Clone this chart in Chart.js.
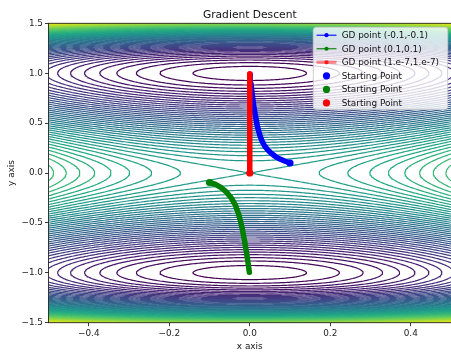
<!DOCTYPE html>
<html>
<head>
<meta charset="utf-8">
<script src="https://cdn.jsdelivr.net/npm/chart.js@4.4.1/dist/chart.umd.min.js"></script>
<style>
  html, body { margin: 0; padding: 0; background: #fff; }
</style>
</head>
<body>
<canvas id="chart" width="451" height="353"></canvas>
<script>
const canvas = document.getElementById("chart");

const xTicks = [-0.4, -0.2, 0.0, 0.2, 0.4];
const yTicks = [-1.5, -1.0, -0.5, 0.0, 0.5, 1.0, 1.5];

// descent tracks
const blueX = [0.100, 0.088, 0.075, 0.064, 0.054, 0.045, 0.037, 0.031, 0.026, 0.020, 0.015, 0.010, 0.006, 0.003, 0.001];
const blueY = [0.100, 0.118, 0.140, 0.165, 0.195, 0.230, 0.270, 0.315, 0.365, 0.450, 0.550, 0.670, 0.790, 0.900, 0.990];
const greenX = [-0.100, -0.085, -0.070, -0.057, -0.046, -0.036, -0.027, -0.019, -0.012, -0.006, -0.001];
const greenY = [-0.095, -0.115, -0.150, -0.195, -0.250, -0.320, -0.420, -0.550, -0.700, -0.850, -0.995];
const redX = [1e-7, 1e-7, 1e-7, 1e-7, 1e-7];
const redY = [1e-7, 0.25, 0.50, 0.75, 0.995];

const legendLabels = [
  "GD point (-0.1,-0.1)",
  "GD point (0.1,0.1)",
  "GD point (1.e-7,1.e-7)",
  "Starting Point",
  "Starting Point",
  "Starting Point"
];

// surface: minima at (0, +-1), saddle at the origin
function surface(x, y) {
  const q = y * y - 1;
  return x * x + q * q;
}

// evenly spaced levels, one of them through the saddle
const levelStep = 0.0297;
const contourLevels = [];
for (let n = -33; n <= 27; n++) contourLevels.push(1 + n * levelStep);

const viridis = ["#440154", "#482475", "#414487", "#355f8d", "#2a788e", "#21918c",
                 "#22a884", "#44bf70", "#7ad151", "#bddf26", "#fde725"];

function hexRgb(h) {
  return [parseInt(h.substr(1, 2), 16), parseInt(h.substr(3, 2), 16), parseInt(h.substr(5, 2), 16)];
}

function viridisAt(t) {
  t = Math.max(0, Math.min(1, t)) * (viridis.length - 1);
  const i = Math.min(Math.floor(t), viridis.length - 2);
  const f = t - i;
  const a = hexRgb(viridis[i]), b = hexRgb(viridis[i + 1]);
  const c = a.map((v, k) => Math.round(v + (b[k] - v) * f));
  return "rgb(" + c.join(",") + ")";
}

// sample grid
const NX = 240, NY = 360;
const gx = [], gy = [];
for (let i = 0; i < NX; i++) gx.push(-0.5 + i / (NX - 1));
for (let j = 0; j < NY; j++) gy.push(-1.5 + 3 * j / (NY - 1));
const Z = gy.map(y => gx.map(x => surface(x, y)));

// marching squares, edges: 0 bottom, 1 right, 2 top, 3 left
const CASES = [
  [], [[3, 0]], [[0, 1]], [[3, 1]], [[1, 2]], null, [[0, 2]], [[3, 2]],
  [[2, 3]], [[0, 2]], null, [[1, 2]], [[1, 3]], [[0, 1]], [[3, 0]], []
];

function traceLevel(L) {
  const nbr = new Map();
  const pos = new Map();

  function edgeKey(i, j, e) {
    if (e === 0) return 2 * (j * NX + i);
    if (e === 2) return 2 * ((j + 1) * NX + i);
    if (e === 3) return 2 * (j * NX + i) + 1;
    return 2 * (j * NX + i + 1) + 1;
  }

  function edgePos(i, j, e) {
    let ax, ay, bx, by;
    if (e === 0) { ax = i; ay = j; bx = i + 1; by = j; }
    else if (e === 1) { ax = i + 1; ay = j; bx = i + 1; by = j + 1; }
    else if (e === 2) { ax = i; ay = j + 1; bx = i + 1; by = j + 1; }
    else { ax = i; ay = j; bx = i; by = j + 1; }
    const va = Z[ay][ax], vb = Z[by][bx];
    const t = (L - va) / (vb - va);
    return { x: gx[ax] + t * (gx[bx] - gx[ax]), y: gy[ay] + t * (gy[by] - gy[ay]) };
  }

  function link(i, j, e1, e2) {
    const k1 = edgeKey(i, j, e1), k2 = edgeKey(i, j, e2);
    if (!pos.has(k1)) { pos.set(k1, edgePos(i, j, e1)); nbr.set(k1, []); }
    if (!pos.has(k2)) { pos.set(k2, edgePos(i, j, e2)); nbr.set(k2, []); }
    nbr.get(k1).push(k2);
    nbr.get(k2).push(k1);
  }

  for (let j = 0; j < NY - 1; j++) {
    for (let i = 0; i < NX - 1; i++) {
      const v0 = Z[j][i], v1 = Z[j][i + 1], v2 = Z[j + 1][i + 1], v3 = Z[j + 1][i];
      const c = (v0 > L ? 1 : 0) | (v1 > L ? 2 : 0) | (v2 > L ? 4 : 0) | (v3 > L ? 8 : 0);
      if (c === 0 || c === 15) continue;
      let segs = CASES[c];
      if (c === 5 || c === 10) {
        const centre = (v0 + v1 + v2 + v3) / 4 > L;
        if (c === 5) segs = centre ? [[0, 1], [2, 3]] : [[3, 0], [1, 2]];
        else segs = centre ? [[3, 0], [1, 2]] : [[0, 1], [2, 3]];
      }
      for (const s of segs) link(i, j, s[0], s[1]);
    }
  }

  // join the cell segments into polylines
  const used = new Set();
  const lines = [];
  function walk(start) {
    const line = [pos.get(start)];
    used.add(start);
    let cur = start;
    for (;;) {
      const next = nbr.get(cur).find(k => !used.has(k));
      if (next === undefined) break;
      used.add(next);
      line.push(pos.get(next));
      cur = next;
    }
    if (line.length > 2 && nbr.get(cur).includes(start)) line.push(pos.get(start));
    return line;
  }
  for (const [k, ns] of nbr) if (ns.length === 1 && !used.has(k)) lines.push(walk(k));
  for (const k of nbr.keys()) if (!used.has(k)) lines.push(walk(k));
  return lines;
}

const lo = contourLevels[0], hi = contourLevels[contourLevels.length - 1];
const contourSets = contourLevels.map(L => {
  const data = [];
  traceLevel(L).forEach(line => {
    line.forEach(p => data.push(p));
    data.push({ x: NaN, y: NaN });
  });
  return {
    data: data,
    showLine: true,
    borderColor: viridisAt((L - lo) / (hi - lo)),
    borderWidth: 1.2,
    pointRadius: 0,
    spanGaps: false,
    clip: 0,
    order: 5
  };
});

function track(xs, ys) {
  return xs.map((x, i) => ({ x: x, y: ys[i] }));
}

function pathSet(xs, ys, color, order) {
  return {
    data: track(xs, ys),
    showLine: true,
    borderColor: color,
    borderWidth: 5.5,
    borderCapStyle: "round",
    borderJoinStyle: "round",
    pointRadius: 0,
    order: order
  };
}

function startSet(xs, ys, color) {
  return {
    data: [{ x: xs[0], y: ys[0] }],
    showLine: false,
    backgroundColor: color,
    borderColor: color,
    borderWidth: 0,
    pointRadius: 3.6,
    order: 0
  };
}

const datasets = [
  startSet(blueX, blueY, "#0000ff"),
  startSet(greenX, greenY, "#008000"),
  startSet(redX, redY, "#ff0000"),
  pathSet(redX, redY, "#ff0000", 1),
  pathSet(greenX, greenY, "#008000", 2),
  pathSet(blueX, blueY, "#0000ff", 3)
].concat(contourSets);

function tickText(v) {
  return v.toFixed(1).replace("-", "\u2212");
}

const FONT = "DejaVu Sans";

// frame, title, axis names and legend
const decorations = {
  id: "decorations",
  afterDraw(chart) {
    const ctx = chart.ctx;
    const a = chart.chartArea;
    ctx.save();

    ctx.strokeStyle = "#222";
    ctx.lineWidth = 0.9;
    ctx.strokeRect(a.left, a.top, a.right - a.left + 2, a.bottom - a.top);

    ctx.fillStyle = "#111";
    ctx.textAlign = "center";
    ctx.textBaseline = "alphabetic";
    ctx.font = "10.7px '" + FONT + "'";
    ctx.fillText("Gradient Descent", (a.left + a.right) / 2, 17.5);

    ctx.font = "8.9px '" + FONT + "'";
    ctx.fillText("x axis", (a.left + a.right) / 2, 349);
    ctx.save();
    ctx.translate(13.5, (a.top + a.bottom) / 2);
    ctx.rotate(-Math.PI / 2);
    ctx.fillText("y axis", 0, 0);
    ctx.restore();

    // legend box
    const bx = 313.3, by = 27.3, bw = 134.4, bh = 82, r = 3;
    ctx.beginPath();
    ctx.moveTo(bx + r, by);
    ctx.arcTo(bx + bw, by, bx + bw, by + bh, r);
    ctx.arcTo(bx + bw, by + bh, bx, by + bh, r);
    ctx.arcTo(bx, by + bh, bx, by, r);
    ctx.arcTo(bx, by, bx + bw, by, r);
    ctx.closePath();
    ctx.fillStyle = "rgba(255,255,255,0.8)";
    ctx.fill();
    ctx.strokeStyle = "#cccccc";
    ctx.lineWidth = 1;
    ctx.stroke();

    const colors = ["#0000ff", "#008000", "#ff0000", "#0000ff", "#008000", "#ff0000"];
    const hx0 = 316.5, hx1 = 336.5, hc = 326.5;
    ctx.textAlign = "left";
    ctx.textBaseline = "middle";
    legendLabels.forEach((label, i) => {
      const y = 35.2 + i * 13.55;
      const c = colors[i];
      if (i < 3) {
        ctx.beginPath();
        ctx.moveTo(hx0, y);
        ctx.lineTo(hx1, y);
        if (i === 2) {
          ctx.strokeStyle = "rgba(255,0,0,0.45)";
          ctx.lineWidth = 3;
        } else {
          ctx.strokeStyle = c;
          ctx.lineWidth = 1.1;
        }
        ctx.stroke();
        ctx.beginPath();
        ctx.arc(hc, y, 2.1, 0, Math.PI * 2);
        ctx.fillStyle = i === 2 ? "rgba(255,0,0,0.8)" : c;
        ctx.fill();
      } else {
        ctx.beginPath();
        ctx.arc(hc, y, 3.6, 0, Math.PI * 2);
        ctx.fillStyle = c;
        ctx.fill();
      }
      ctx.fillStyle = "#111";
      ctx.fillText(label, 341.7, y + 0.5);
    });

    ctx.restore();
  }
};

new Chart(canvas, {
  type: "scatter",
  data: { datasets: datasets },
  options: {
    responsive: false,
    animation: false,
    devicePixelRatio: 1,
    events: [],
    layout: { autoPadding: false, padding: { top: 23.3, left: 0, right: 0, bottom: 0 } },
    plugins: {
      legend: { display: false },
      tooltip: { enabled: false },
      title: { display: false }
    },
    scales: {
      x: {
        type: "linear",
        min: -0.5,
        max: 0.5,
        afterBuildTicks: s => { s.ticks = xTicks.map(v => ({ value: v })); },
        afterFit: s => { s.height = 30.3; s.paddingLeft = 0; s.paddingRight = 0; },
        ticks: {
          callback: v => tickText(v),
          font: { family: FONT, size: 8.9 },
          color: "#222",
          padding: 2,
          maxRotation: 0,
          autoSkip: false
        },
        grid: { display: true, drawOnChartArea: false, drawTicks: true, tickLength: 3.5, tickColor: "#222", tickWidth: 0.9 },
        border: { display: false }
      },
      y: {
        type: "linear",
        min: -1.5,
        max: 1.5,
        afterBuildTicks: s => { s.ticks = yTicks.map(v => ({ value: v })); },
        afterFit: s => { s.width = 48.5; s.paddingTop = 0; s.paddingBottom = 0; },
        ticks: {
          callback: v => tickText(v),
          font: { family: FONT, size: 8.9 },
          color: "#222",
          padding: 2,
          autoSkip: false
        },
        grid: { display: true, drawOnChartArea: false, drawTicks: true, tickLength: 3.5, tickColor: "#222", tickWidth: 0.9 },
        border: { display: false }
      }
    }
  },
  plugins: [decorations]
});
</script>
</body>
</html>
